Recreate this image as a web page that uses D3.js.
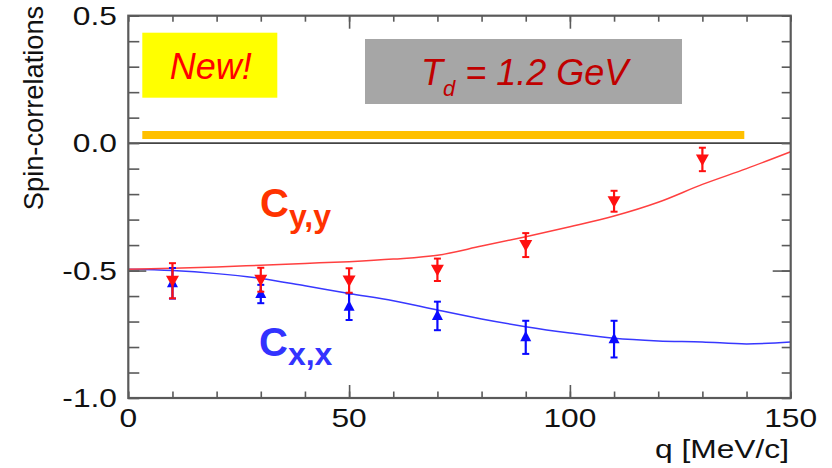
<!DOCTYPE html>
<html>
<head>
<meta charset="utf-8">
<script src="https://cdn.jsdelivr.net/npm/d3@7"></script>
<style>
  html, body { margin: 0; padding: 0; background: #ffffff; }
  svg { display: block; }
  text { font-family: "Liberation Sans", Arial, sans-serif; }
</style>
</head>
<body>
<svg id="chart" width="832" height="468"></svg>
<script>
// Measured spin correlations vs. momentum transfer q (MeV/c)
const cyyQ = [10, 30, 50, 70, 90, 110, 130];
const cyyValues = [-0.54, -0.536, -0.539, -0.497, -0.40, -0.228, -0.064];
const cyyErrors = [0.069, 0.047, 0.048, 0.044, 0.047, 0.041, 0.046];

const cxxQ = [10, 30, 50, 70, 90, 110];
const cxxValues = [-0.55, -0.592, -0.642, -0.678, -0.762, -0.769];
const cxxErrors = [0.06, 0.036, 0.052, 0.056, 0.065, 0.072];

// Theory curves
const theoryQ = [0, 10, 20, 30, 40, 50, 60, 70, 80, 90, 100, 110, 120, 130, 140, 150];
const cyyTheory = [-0.495, -0.491, -0.486, -0.479, -0.472, -0.465, -0.455, -0.44, -0.404, -0.367, -0.328, -0.286, -0.232, -0.162, -0.10, -0.034];
const cxxTheory = [-0.495, -0.50, -0.512, -0.531, -0.56, -0.59, -0.618, -0.655, -0.69, -0.72, -0.745, -0.766, -0.776, -0.78, -0.788, -0.78];

// Axis ticks and labels
const xTickValues = [0, 50, 100, 150];
const xTickLabels = ["0", "50", "100", "150"];
const yTickValues = [0.5, 0.0, -0.5, -1.0];
const yTickLabels = ["0.5", "0.0", "-0.5", "-1.0"];
const xMinorTicks = d3.range(0, 151, 10);
const yMinorTicks = d3.range(-10, 6, 1).map(d => d / 10);

const svg = d3.select("#chart");
svg.append("rect").attr("width", 832).attr("height", 468).attr("fill", "#ffffff");

const x = d3.scaleLinear().domain([0, 150]).range([128.3, 790.7]);
const y = d3.scaleLinear().domain([-1, 0.5]).range([398, 15.7]);

const axisColor = "#5a5a5a";
const stretch = 1.27;

// Annotation boxes
svg.append("rect").attr("x", 142.3).attr("y", 32.7).attr("width", 135).attr("height", 65)
  .attr("fill", "#ffff00");
svg.append("text").attr("x", 210.8).attr("y", 79.3).attr("text-anchor", "middle")
  .attr("font-size", 36).attr("font-style", "italic").attr("fill", "#ff0000").text("New!");

svg.append("rect").attr("x", 365).attr("y", 39).attr("width", 317).attr("height", 65)
  .attr("fill", "#a6a6a6");
const td = svg.append("text").attr("x", 421).attr("y", 85)
  .attr("font-style", "italic").attr("fill", "#c00000").attr("font-size", 36);
td.append("tspan").text("T");
td.append("tspan").attr("font-size", 22).attr("dy", 11).text("d");
td.append("tspan").attr("font-size", 36).attr("dy", -11).text("\u00a0= 1.2 GeV");

svg.append("rect").attr("x", 142.3).attr("y", 131).attr("width", 602).attr("height", 8)
  .attr("fill", "#ffc000");

// Zero line
svg.append("line").attr("x1", x(0)).attr("x2", x(150)).attr("y1", y(0)).attr("y2", y(0))
  .attr("stroke", "#444").attr("stroke-width", 1.6);

// Theory curves
const line = d3.line().x((d, i) => x(theoryQ[i])).y(d => y(d)).curve(d3.curveMonotoneX);
svg.append("path").datum(cxxTheory).attr("d", line)
  .attr("fill", "none").attr("stroke", "#3838ff").attr("stroke-width", 1.5);
svg.append("path").datum(cyyTheory).attr("d", line)
  .attr("fill", "none").attr("stroke", "#ff4040").attr("stroke-width", 1.5);

// Data points with error bars
function drawSeries(qs, vals, errs, color, up) {
  const g = svg.append("g");
  qs.forEach((q, i) => {
    const cx = x(q), cy = y(vals[i]);
    const y1 = y(vals[i] + errs[i]), y2 = y(vals[i] - errs[i]);
    g.append("line").attr("x1", cx).attr("x2", cx).attr("y1", y1).attr("y2", y2)
      .attr("stroke", color).attr("stroke-width", 2.2);
    [y1, y2].forEach(yy => g.append("line").attr("x1", cx - 3.5).attr("x2", cx + 3.5)
      .attr("y1", yy).attr("y2", yy).attr("stroke", color).attr("stroke-width", 2));
    const pts = up
      ? [[cx - 5.5, cy + 4], [cx + 5.5, cy + 4], [cx, cy - 6.5]]
      : [[cx - 6.5, cy - 5], [cx + 6.5, cy - 5], [cx, cy + 6.5]];
    g.append("path").attr("d", "M" + pts.map(p => p.join(",")).join("L") + "Z").attr("fill", color);
  });
}
drawSeries(cxxQ, cxxValues, cxxErrors, "#0a0aff", true);
drawSeries(cyyQ, cyyValues, cyyErrors, "#ff1010", false);

// Curve labels
const lyy = svg.append("text").attr("x", 260).attr("y", 216.7).attr("fill", "#ff3300")
  .attr("font-weight", "bold").attr("font-size", 40);
lyy.append("tspan").text("C");
lyy.append("tspan").attr("font-size", 32).attr("dy", 10).text("y,y");

const lxx = svg.append("text").attr("x", 259).attr("y", 356).attr("fill", "#3333ff")
  .attr("font-weight", "bold").attr("font-size", 40);
lxx.append("tspan").text("C");
lxx.append("tspan").attr("font-size", 32).attr("dy", 9).text("x,x");

// Frame ticks (pointing inward)
function ticks(axis, values, size) {
  return axis.tickValues(values).tickSize(-size).tickFormat("").tickSizeOuter(0);
}
const tickLayers = [
  [d3.axisBottom(x), xMinorTicks, 6.5, `translate(0,${y(-1)})`],
  [d3.axisBottom(x), [50, 100], 13, `translate(0,${y(-1)})`],
  [d3.axisTop(x), xMinorTicks, 6, `translate(0,${y(0.5)})`],
  [d3.axisTop(x), [50, 100], 13, `translate(0,${y(0.5)})`],
  [d3.axisLeft(y), yMinorTicks, 11, `translate(${x(0)},0)`],
  [d3.axisLeft(y), [-0.5], 18, `translate(${x(0)},0)`],
  [d3.axisRight(y), yMinorTicks, 9, `translate(${x(150)},0)`],
  [d3.axisRight(y), [-0.5], 18, `translate(${x(150)},0)`]
];
tickLayers.forEach(([ax, vals, size, tr]) => {
  const g = svg.append("g").attr("transform", tr).call(ticks(ax, vals, size));
  g.select(".domain").remove();
  g.selectAll(".tick line").attr("stroke", axisColor).attr("stroke-width", 1.6);
});

// Frame
svg.append("rect").attr("x", x(0)).attr("y", y(0.5))
  .attr("width", x(150) - x(0)).attr("height", y(-1) - y(0.5))
  .attr("fill", "none").attr("stroke", axisColor).attr("stroke-width", 2.2);

// Tick labels
svg.append("g").selectAll("text").data(xTickValues).join("text")
  .attr("transform", d => `translate(${x(d)},426.7) scale(${stretch},1)`)
  .attr("text-anchor", "middle").attr("font-size", 25).attr("fill", "#111")
  .text((d, i) => xTickLabels[i]);

svg.append("g").selectAll("text").data(yTickValues).join("text")
  .attr("transform", d => `translate(117,${y(d) + 9}) scale(${stretch},1)`)
  .attr("text-anchor", "end").attr("font-size", 25).attr("fill", "#111")
  .text((d, i) => yTickLabels[i]);

// Axis titles
svg.append("text")
  .attr("transform", `translate(789,458) scale(${stretch},1)`)
  .attr("text-anchor", "end").attr("font-size", 25).attr("fill", "#111")
  .text("q [MeV/c]");

svg.append("text")
  .attr("transform", "translate(43,108) rotate(-90) scale(1.09,1.1)")
  .attr("text-anchor", "middle").attr("font-size", 25).attr("fill", "#111")
  .text("Spin-correlations");
</script>
</body>
</html>
